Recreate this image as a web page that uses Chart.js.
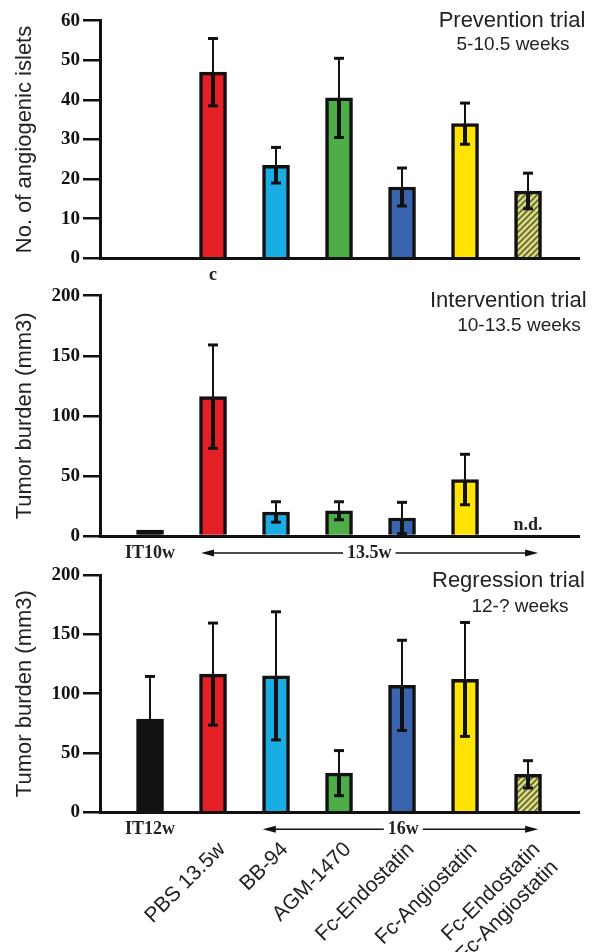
<!DOCTYPE html>
<html>
<head>
<meta charset="utf-8">
<script src="https://cdn.jsdelivr.net/npm/chart.js@4.4.1/dist/chart.umd.min.js"></script>
<style>
  html, body { margin: 0; padding: 0; background: #fff; }
  #wrap { position: relative; width: 607px; height: 952px; }
  canvas { position: absolute; left: 0; }
</style>
</head>
<body>
<div id="wrap">
  <canvas id="prevention" width="607" height="280" style="top:0"></canvas>
  <canvas id="intervention" width="607" height="280" style="top:280px"></canvas>
  <canvas id="regression" width="607" height="392" style="top:560px"></canvas>
</div>
<script>
// groups, one bar slot each (slot 0 is the untreated IT control)
const groups = ['IT', 'PBS 13.5w', 'BB-94', 'AGM-1470', 'Fc-Endostatin', 'Fc-Angiostatin', ['Fc-Endostatin', 'Fc-Angiostatin']];

const preventionValues = [0, 47, 23.5, 40.5, 18, 34, 17];
const preventionErrors = [0, 8.5, 4.5, 10, 4.8, 5.2, 4.5];

const interventionValues = [5, 116, 20, 21, 15, 47, null];
const interventionErrors = [0, 43, 8.5, 7.5, 13, 21, 0];

const regressionValues = [78.5, 116.5, 115, 33, 107, 112, 32];
const regressionErrors = [36, 43, 54, 19, 38, 48, 11.5];

const preventionTicks = { max: 60, step: 10 };
const burdenTicks = { max: 200, step: 50 };

const INK = '#111';
const TEXT = '#222';

function hatch() {
  const c = document.createElement('canvas');
  c.width = 6; c.height = 6;
  const g = c.getContext('2d');
  g.fillStyle = '#e2dc72';
  g.fillRect(0, 0, 6, 6);
  g.strokeStyle = '#5d6849';
  g.lineWidth = 1.7;
  [[-3, 3, 3, -3], [0, 6, 6, 0], [3, 9, 9, 3]].forEach(s => {
    g.beginPath(); g.moveTo(s[0], s[1]); g.lineTo(s[2], s[3]); g.stroke();
  });
  return g.createPattern(c, 'repeat');
}

const fills = ['#111111', '#e41f26', '#1aade4', '#4dae48', '#3a64ad', '#ffe400', hatch()];

function line(ctx, x1, y1, x2, y2, w) {
  ctx.lineWidth = w;
  ctx.beginPath(); ctx.moveTo(x1, y1); ctx.lineTo(x2, y2); ctx.stroke();
}

const errorBars = {
  id: 'errorBars',
  afterDatasetsDraw(chart, args, opts) {
    const { ctx, scales: { x, y } } = chart;
    const pts = chart.data.datasets[0].data;
    ctx.save();
    ctx.strokeStyle = INK;
    opts.errors.forEach((e, i) => {
      const v = pts[i].y;
      if (v == null || !e) return;
      const px = x.getPixelForValue(i);
      const pv = y.getPixelForValue(v);
      const pt = y.getPixelForValue(v + e);
      const pb = y.getPixelForValue(Math.max(v - e, 0));
      line(ctx, px, pv, px, pt, 2);
      line(ctx, px - 5, pt, px + 5, pt, 3);
      line(ctx, px, pv, px, pb, 4);
      line(ctx, px - 5, pb, px + 5, pb, 3);
    });
    ctx.restore();
  }
};

function text(ctx, str, x, y, font, align) {
  ctx.font = font;
  ctx.textAlign = align || 'center';
  ctx.textBaseline = 'middle';
  ctx.fillStyle = TEXT;
  ctx.fillText(str, x, y);
}

function arrow(ctx, x1, x2, y, label, lx) {
  const font = 'bold 18px "Liberation Serif"';
  ctx.font = font;
  const w = ctx.measureText(label).width;
  ctx.strokeStyle = INK;
  ctx.fillStyle = INK;
  line(ctx, x1 + 8, y, lx - w / 2 - 4, y, 1.5);
  line(ctx, lx + w / 2 + 4, y, x2 - 8, y, 1.5);
  ctx.beginPath(); ctx.moveTo(x1, y); ctx.lineTo(x1 + 13, y - 3.5); ctx.lineTo(x1 + 13, y + 3.5); ctx.closePath(); ctx.fill();
  ctx.beginPath(); ctx.moveTo(x2, y); ctx.lineTo(x2 - 13, y - 3.5); ctx.lineTo(x2 - 13, y + 3.5); ctx.closePath(); ctx.fill();
  text(ctx, label, lx, y, font);
}

const serif = 'bold 18px "Liberation Serif"';

function xAxis(bottomSpace, labels) {
  const axis = {
    type: 'linear', min: -0.794, max: 6.817, offset: false,
    grid: { display: false, drawTicks: false },
    border: { display: true, color: INK, width: 3 },
    afterBuildTicks: s => { s.ticks = s.ticks.filter(t => Number.isInteger(t.value) && t.value >= 0 && t.value <= 6); },
    afterFit: s => { s.height = bottomSpace; },
    ticks: { display: false, stepSize: 1 }
  };
  if (labels) {
    axis.ticks = {
      display: true, stepSize: 1, autoSkip: false, minRotation: 45, maxRotation: 45,
      padding: 25, labelOffset: 9, color: TEXT,
      font: { family: 'Liberation Sans', size: 21 },
      callback: v => (v >= 1 && v <= 6) ? groups[v] : ''
    };
  }
  return axis;
}

function yAxis(t, title) {
  return {
    min: 0, max: t.max,
    ticks: { stepSize: t.step, color: INK, padding: 3, font: { family: 'Liberation Serif', weight: 'bold', size: 19 } },
    grid: { drawOnChartArea: false, drawTicks: true, tickLength: 17, lineWidth: 2.5, color: INK },
    border: { display: true, color: INK, width: 3 },
    title: { display: true, text: title, color: TEXT, font: { family: 'Liberation Sans', size: 22 }, padding: { top: 12, bottom: 0 } },
    afterFit: s => { s.width = 100; }
  };
}

function panel(id, values, errors, yTicks, yTitle, top, bottomSpace, labels, notes) {
  return new Chart(document.getElementById(id), {
    type: 'bar',
    data: {
      datasets: [{
        data: values.map((v, i) => ({ x: i, y: v })),
        backgroundColor: fills,
        borderColor: INK,
        borderWidth: 3.5,
        borderSkipped: 'start',
        barThickness: 27
      }]
    },
    options: {
      responsive: false,
      animation: false,
      layout: { padding: { top: top, right: 27.5, left: 0, bottom: 0 } },
      plugins: { legend: { display: false }, tooltip: { enabled: false }, errorBars: { errors: errors } },
      scales: { x: xAxis(bottomSpace, labels), y: yAxis(yTicks, yTitle) }
    },
    plugins: [errorBars, { id: 'notes', afterDraw: notes }]
  });
}

panel('prevention', preventionValues, preventionErrors, preventionTicks, 'No. of angiogenic islets', 20.7, 21.7, false, chart => {
  const { ctx, chartArea, scales: { x } } = chart;
  text(ctx, 'Prevention trial', 512, 21, '22px "Liberation Sans"');
  text(ctx, '5-10.5 weeks', 513, 45, '19px "Liberation Sans"');
  text(ctx, 'c', x.getPixelForValue(1), chartArea.bottom + 17, serif);
});

panel('intervention', interventionValues, interventionErrors, burdenTicks, 'Tumor burden (mm3)', 15.7, 24, false, chart => {
  const { ctx, chartArea, scales: { x } } = chart;
  text(ctx, 'Intervention trial', 430, 21, '22px "Liberation Sans"', 'left');
  text(ctx, '10-13.5 weeks', 519, 46, '19px "Liberation Sans"');
  text(ctx, 'n.d.', x.getPixelForValue(6), chartArea.bottom - 11, serif);
  text(ctx, 'IT10w', x.getPixelForValue(0), chartArea.bottom + 17, serif);
  arrow(ctx, x.getPixelForValue(0.81), x.getPixelForValue(6.16), chartArea.bottom + 17, '13.5w', x.getPixelForValue(3.48));
});

panel('regression', regressionValues, regressionErrors, burdenTicks, 'Tumor burden (mm3)', 15, 139.7, true, chart => {
  const { ctx, chartArea, scales: { x } } = chart;
  text(ctx, 'Regression trial', 432, 21, '22px "Liberation Sans"', 'left');
  text(ctx, '12-? weeks', 520, 47, '19px "Liberation Sans"');
  text(ctx, 'IT12w', x.getPixelForValue(0), chartArea.bottom + 17, serif);
  arrow(ctx, x.getPixelForValue(1.79), x.getPixelForValue(6.16), chartArea.bottom + 17, '16w', x.getPixelForValue(4.02));
});
</script>
</body>
</html>
